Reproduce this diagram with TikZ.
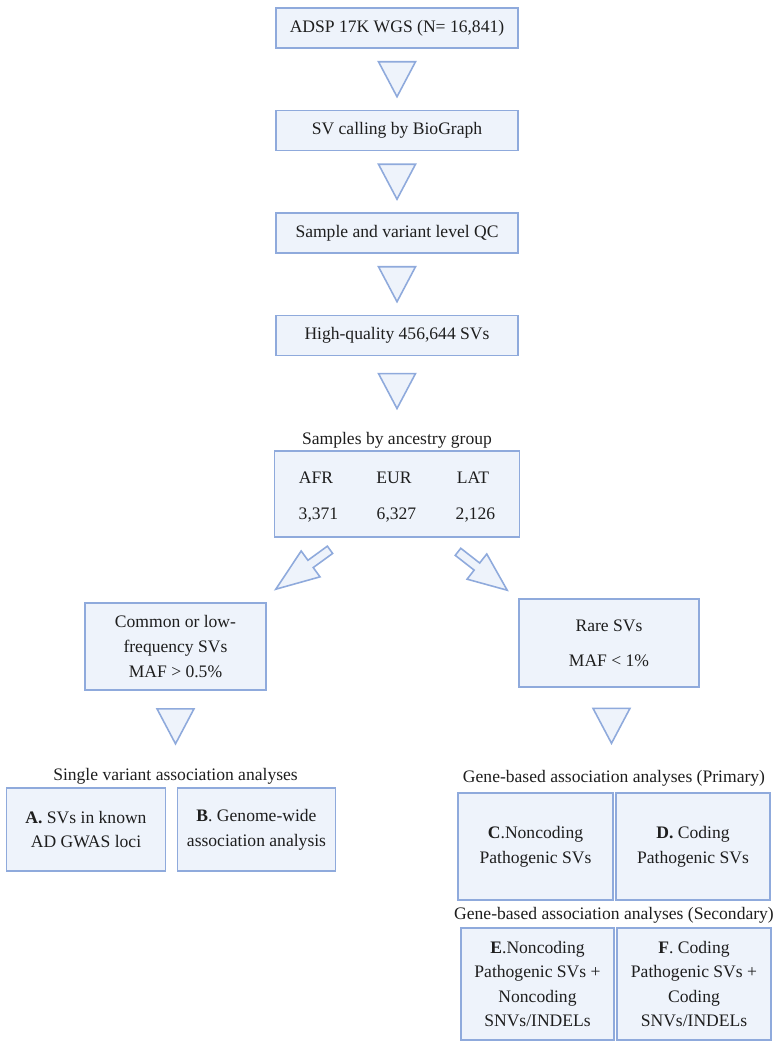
\documentclass[tikz,border=0pt]{standalone}
\usepackage{fontspec}
\setmainfont{Liberation Serif}
\usepackage{tikz}
\usetikzlibrary{positioning,calc}

\definecolor{boxline}{HTML}{8FAADC}
\definecolor{boxfill}{HTML}{EEF3FB}
\definecolor{inktext}{HTML}{1E1E1E}

% hollow triangle between two nodes
\newcommand{\downtri}[2]{%
  \draw[arrowshape] ($(#1.south)!0.5!(#2.north)$) ++(-0.37,0.35) -- ++(0.74,0) -- ++(-0.37,-0.70) -- cycle;}
% block arrow from tail coordinate to tip coordinate
\newcommand{\blockarrow}[2]{%
  \coordinate (headbase) at ($(#1)!0.48cm!(#2)$);
  \draw[arrowshape] ($(#1)!0.09cm!90:(#2)$) -- ($(headbase)!0.09cm!90:(#2)$) -- ($(headbase)!0.32cm!90:(#2)$) -- (#2)
    -- ($(headbase)!0.32cm!-90:(#2)$) -- ($(headbase)!0.09cm!-90:(#2)$) -- ($(#1)!0.09cm!-90:(#2)$) -- cycle;}

\begin{document}
\begin{tikzpicture}[node distance=2.05cm, font=\fontsize{10}{14}\selectfont, text=inktext,
    flowbox/.style={draw=boxline, fill=boxfill, line width=0.9pt, rectangle, align=center, inner sep=2pt},
    arrowshape/.style={draw=boxline, fill=boxfill, line width=0.9pt, line join=miter}]
        \useasboundingbox (0,0) rectangle (15.6,-20.98);

        % Pipeline
        \node (adsp) at (7.94,-0.56) [flowbox, minimum width=4.84cm, minimum height=0.8cm] {ADSP 17K WGS (N= 16,841)};
        \node (calling) [below of=adsp, flowbox, minimum width=4.84cm, minimum height=0.8cm] {SV calling by BioGraph};
        \node (qc) [below of=calling, flowbox, minimum width=4.84cm, minimum height=0.8cm] {Sample and variant level QC};
        \node (hq) [below of=qc, flowbox, minimum width=4.84cm, minimum height=0.8cm] {High-quality 456,644 SVs};

        % Ancestry
        \node (grouplabel) [below of=hq, yshift=-0.04cm] {Samples by ancestry group};
        \node (anc) [below of=grouplabel, yshift=0.97cm, flowbox, minimum width=4.9cm, minimum height=1.72cm] {};
        \foreach \grp/\num/\dx [count=\i] in {AFR/{3,371}/-1.62, EUR/{6,327}/-0.06, LAT/{2,126}/1.52} {
            \node (grp\i) at ($(anc.center)+(\dx,0.32)$) {\grp};
            \node (num\i) at ($(anc.center)+(\dx+0.05,-0.42)$) {\num};
        }

        % Frequency split
        \node (common) [below of=anc, xshift=-4.43cm, yshift=-1.0cm, flowbox, minimum width=3.62cm, minimum height=1.74cm] {Common or low-\\frequency SVs\\MAF > 0.5\%};
        \node (rare) [below of=anc, xshift=4.24cm, yshift=-0.93cm, flowbox, minimum width=3.6cm, minimum height=1.76cm] {Rare SVs\\[0.2cm]MAF < 1\%};

        % Single variant analyses
        \node (singlelabel) [below of=common, yshift=-0.54cm] {Single variant association analyses};
        \node (boxA) [below of=singlelabel, xshift=-1.79cm, yshift=0.98cm, flowbox, minimum width=3.18cm, minimum height=1.66cm] {\textbf{A.} SVs in known\\AD GWAS loci};
        \node (boxB) [right of=boxA, xshift=1.36cm, flowbox, minimum width=3.16cm, minimum height=1.66cm] {\textbf{B}. Genome-wide\\association analysis};

        % Gene-based analyses
        \node (primlabel) [below of=rare, xshift=0.1cm, yshift=-0.65cm] {Gene-based association analyses (Primary)};
        \node (boxC) [below of=primlabel, xshift=-1.57cm, yshift=0.68cm, flowbox, minimum width=3.1cm, minimum height=2.14cm] {\textbf{C}.Noncoding\\Pathogenic SVs};
        \node (boxD) [right of=boxC, xshift=1.1cm, flowbox, minimum width=3.08cm, minimum height=2.14cm] {\textbf{D.} Coding\\Pathogenic SVs};
        \node (seclabel) [below of=primlabel, yshift=-0.69cm] {Gene-based association analyses (Secondary)};
        \node (boxE) [below of=seclabel, xshift=-1.53cm, yshift=0.67cm, flowbox, minimum width=3.06cm, minimum height=2.24cm] {\textbf{E}.Noncoding\\Pathogenic SVs +\\Noncoding\\SNVs/INDELs};
        \node (boxF) [right of=boxE, xshift=1.08cm, flowbox, minimum width=3.08cm, minimum height=2.24cm] {\textbf{F}. Coding\\Pathogenic SVs +\\Coding\\SNVs/INDELs};

        % Arrows
        \downtri{adsp}{calling}
        \downtri{calling}{qc}
        \downtri{qc}{hq}
        \downtri{hq}{grouplabel}
        \downtri{common}{singlelabel}
        \downtri{rare}{primlabel}
        \coordinate (lefttail) at ($(anc.south)+(-1.34,-0.24)$);
        \coordinate (lefttip) at ($(common.north east)+(0.18,0.26)$);
        \coordinate (righttail) at ($(anc.south)+(1.22,-0.28)$);
        \coordinate (righttip) at ($(rare.north west)+(-0.22,0.16)$);
        \blockarrow{lefttail}{lefttip}
        \blockarrow{righttail}{righttip}
    \end{tikzpicture}
\end{document}
